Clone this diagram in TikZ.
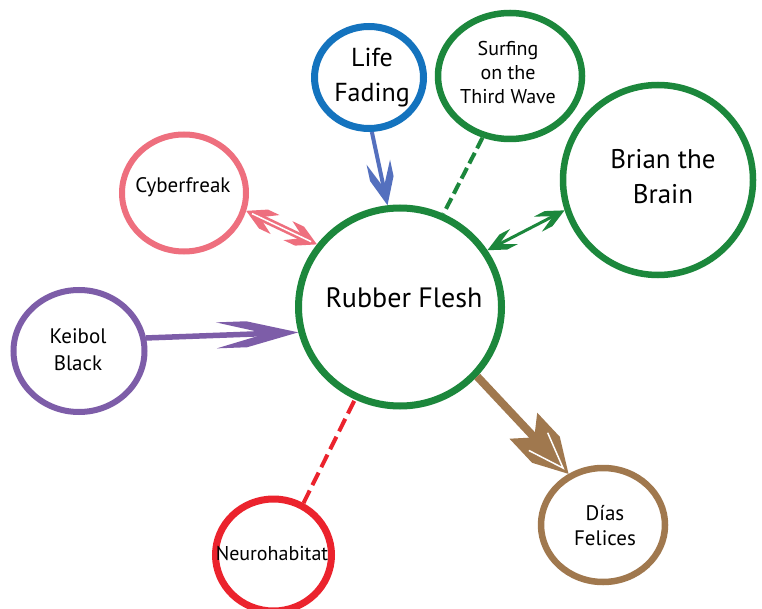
\documentclass[tikz,border=0pt]{standalone}
\usepackage{fontspec}
\setmainfont{PT Sans}
\usetikzlibrary{arrows.meta,shapes.geometric}

\def\barbkink{0.6}
\def\barbinner{0pt}
\def\barbaxial{0pt}
\pgfkeys{/pgf/arrow keys/kink/.code={\def\barbkink{#1}},
         /pgf/arrow keys/inner/.code={\def\barbinner{#1}},
         /pgf/arrow keys/axial/.code={\def\barbaxial{#1}}}

\pgfdeclarearrow{
  name = Barb,
  defaults = { length = 20pt, width = 10pt, inset = 8pt, kink = 0.6, inner = 0pt, axial = 0pt },
  setup code = {
    \pgfarrowssettipend{0pt}
    \pgfarrowssetlineend{\dimexpr\pgfarrowinset-\pgfarrowlength+1pt\relax}
    \pgfarrowssetbackend{-\pgfarrowlength}
    \pgfarrowssavethe\pgfarrowlength
    \pgfarrowssavethe\pgfarrowwidth
    \pgfarrowssavethe\pgfarrowinset
    \pgfarrowssave\barbkink
    \pgfarrowssave\barbinner
    \pgfarrowssave\barbaxial
  },
  drawing code = {
    \pgfpathmoveto{\pgfqpoint{0pt}{0pt}}
    \pgfpathlineto{\pgfpoint{-\barbkink*\pgfarrowlength}{0.5*\pgfarrowwidth}}
    \pgfpathlineto{\pgfpoint{-\pgfarrowlength}{0.5*\pgfarrowwidth}}
    \pgfpathlineto{\pgfpoint{\pgfarrowinset-\pgfarrowlength}{0pt}}
    \pgfpathlineto{\pgfpoint{-\pgfarrowlength}{-0.5*\pgfarrowwidth}}
    \pgfpathlineto{\pgfpoint{-\barbkink*\pgfarrowlength}{-0.5*\pgfarrowwidth}}
    \pgfpathclose
    \pgfusepathqfill
    \ifdim\barbinner>0pt
      \pgfsetstrokecolor{white}
      \pgfsetlinewidth{\barbinner}
      \pgfpathmoveto{\pgfpoint{-0.67*\pgfarrowlength}{0.34*\pgfarrowwidth}}
      \pgfpathlineto{\pgfpoint{-0.12*\pgfarrowlength}{0pt}}
      \pgfpathlineto{\pgfpoint{-0.67*\pgfarrowlength}{-0.34*\pgfarrowwidth}}
      \pgfusepathqstroke
    \fi
    \ifdim\barbaxial>0pt
      \pgfsetstrokecolor{white}
      \pgfsetlinewidth{\barbaxial}
      \pgfpathmoveto{\pgfpoint{\pgfarrowinset-\pgfarrowlength-2pt}{0pt}}
      \pgfpathlineto{\pgfpoint{-0.2*\pgfarrowlength}{0pt}}
      \pgfusepathqstroke
    \fi
  },
  parameters = { \the\pgfarrowlength,\the\pgfarrowwidth,\the\pgfarrowinset,\barbkink,\barbinner,\barbaxial },
}

\definecolor{fgreen}{RGB}{28,135,60}
\definecolor{blueC}{RGB}{20,115,190}
\definecolor{blueA}{RGB}{84,112,190}
\definecolor{pinkC}{RGB}{238,111,126}
\definecolor{purpC}{RGB}{125,93,168}
\definecolor{redC}{RGB}{235,35,45}
\definecolor{brownC}{RGB}{160,120,78}

\newcommand{\stk}[1]{\begin{tabular}[t]{@{}c@{}}#1\end{tabular}}

\begin{document}
\begin{tikzpicture}[x=1pt,y=-1pt,
  bub/.style={ellipse, draw, inner sep=0pt},
  txt/.style={anchor=base, inner sep=0pt, text=black},
]
\useasboundingbox[fill=white] (0,0) rectangle (762,609);

% bubbles
\node[bub, draw=fgreen, line width=7pt, minimum width=203pt, minimum height=198pt] (rf) at (400,307) {};
\node[bub, draw=blueC, line width=7pt, minimum width=109pt, minimum height=102pt] (lf) at (369,77.5) {};
\node[bub, draw=fgreen, line width=6.5pt, minimum width=144pt, minimum height=126pt] (su) at (510,76) {};
\node[bub, draw=fgreen, line width=6.5pt, minimum width=190pt, minimum height=190pt] (br) at (658,180) {};
\node[bub, draw=pinkC, line width=6pt, minimum width=124pt, minimum height=117pt] (cy) at (184,193) {};
\node[bub, draw=purpC, line width=6pt, minimum width=131pt, minimum height=122pt] (kb) at (79,351) {};
\node[bub, draw=brownC, line width=6.5pt, minimum width=124pt, minimum height=114pt] (df) at (603,525) {};
\node[bub, draw=redC, line width=7pt, minimum width=116pt, minimum height=112pt] (nh) at (273.5,555) {};

% texts
\node[txt, font=\fontsize{28}{34}\selectfont] (rft) at (404,308) {Rubber Flesh};
\node[txt, font=\fontsize{26}{35}\selectfont] (lft) at (372,67) {\stk{Life\\Fading}};
\node[txt, font=\fontsize{20}{24}\selectfont] (sut) at (508,56) {\stk{Surfing\\on the\\Third Wave}};
\node[txt, font=\fontsize{27}{35}\selectfont] (brt) at (663,169) {\stk{Brian the\\Brain}};
\node[txt, font=\fontsize{21}{26}\selectfont] (cyt) at (183,193) {Cyberfreak};
\node[txt, font=\fontsize{21}{27}\selectfont] (kbt) at (78,343) {\stk{Keibol\\Black}};
\node[txt, font=\fontsize{21}{25}\selectfont] (dft) at (605,520) {\stk{Días\\Felices}};
\node[txt, font=\fontsize{20}{24}\selectfont] (nht) at (272,560) {Neurohabitat};

% connectors
\draw[blueA, line width=4pt, -{Barb[length=44pt,width=24pt,inset=26pt,kink=0.62]}] (lf.-87) -- (rf.97);
\draw[fgreen, line width=4pt, dash pattern=on 12pt off 5pt] (su.-114) -- (rf.65.6);
\draw[fgreen, line width=3pt, {Barb[length=30pt,width=17pt,inset=17pt,kink=0.6]}-{Barb[length=30pt,width=17pt,inset=17pt,kink=0.6]}] (rf.33) -- (br.198);
\draw[pinkC, line width=2.6pt, double=white, double distance=1.5pt, {Barb[length=32pt,width=21pt,inset=17pt,kink=0.6,axial=1.5pt]}-{Barb[length=32pt,width=21pt,inset=17pt,kink=0.6,axial=1.5pt]}] (cy.-16) -- (rf.143);
\draw[purpC, line width=5.5pt, -{Barb[length=82pt,width=26pt,inset=50pt,kink=0.63]}] (kb.11.5) -- (rf.194.7);
\draw[redC, line width=4pt, dash pattern=on 14pt off 6pt] (nh.60.6) -- (rf.244);
\draw[brownC, line width=8pt, -{Barb[length=66pt,width=38pt,inset=16pt,kink=0.5,inner=1.5pt]}] (rf.-42) -- (df.124);
\end{tikzpicture}
\end{document}
